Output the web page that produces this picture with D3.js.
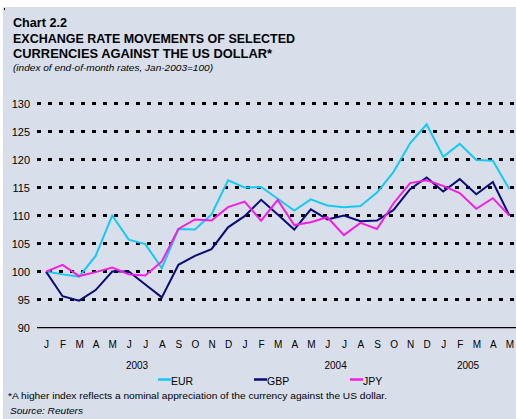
<!DOCTYPE html>
<html><head><meta charset="utf-8">
<script src="https://cdn.jsdelivr.net/npm/d3@7"></script>
<style>body{margin:0;background:#fff}svg{display:block}text{font-family:"Liberation Sans",Arial,sans-serif}</style>
</head><body><svg id="c" width="516" height="419"></svg>
<script>
const months = ["J","F","M","A","M","J","J","A","S","O","N","D","J","F","M","A","M","J","J","A","S","O","N","D","J","F","M","A","M"];
const years = [{label:"2003",idx:5.5},{label:"2004",idx:17.5},{label:"2005",idx:25.5}];
const eur = [100,99.5,99.1,102.8,110.0,105.7,104.9,100.6,107.6,107.5,110.2,116.3,115.0,115.1,113.0,110.9,112.9,111.8,111.5,111.7,114.1,117.8,122.9,126.3,120.5,122.8,119.9,119.8,114.7];
const gbp = [100,95.6,94.8,96.7,100.0,100.0,97.7,95.4,101.2,102.8,104.0,107.9,109.9,112.8,110.2,107.5,111.1,109.3,110.0,109.0,109.1,111.0,114.7,116.8,114.3,116.5,113.8,116.0,110.0];
const jpy = [100,101.2,99.2,99.9,100.7,99.5,99.3,101.8,107.6,109.3,109.1,111.5,112.5,109.1,112.8,108.3,108.8,109.7,106.5,108.7,107.6,112.2,115.8,116.3,115.3,114.0,111.2,113.1,110.0];
const yTicks = [90,95,100,105,110,115,120,125,130];
const seriesNames = ["EUR","GBP","JPY"];
const seriesColors = ["#17c8f4","#0a0a78","#f21ee6"];

const svg = d3.select("#c");
svg.append("rect").attr("x",3).attr("y",7).attr("width",513).attr("height",412).attr("fill","#d8dfeb");
svg.append("rect").attr("x",4).attr("y",8).attr("width",1).attr("height",2).attr("fill","#000");

const x = d3.scaleLinear().domain([0,28]).range([46,509.4]);
const y = d3.scaleLinear().domain([90,130]).range([327.6,103.5]);

// titles
const t = svg.append("g");
t.append("text").attr("x",13).attr("y",27).attr("font-size",12.5).attr("font-weight","bold").attr("textLength",54).attr("lengthAdjust","spacingAndGlyphs").text("Chart 2.2");
t.append("text").attr("x",13).attr("y",43).attr("font-size",12.5).attr("font-weight","bold").attr("textLength",282).attr("lengthAdjust","spacingAndGlyphs").text("EXCHANGE RATE MOVEMENTS OF SELECTED");
t.append("text").attr("x",13).attr("y",57.5).attr("font-size",12.5).attr("font-weight","bold").attr("textLength",259).attr("lengthAdjust","spacingAndGlyphs").text("CURRENCIES AGAINST THE US DOLLAR*");
t.append("text").attr("x",13).attr("y",71).attr("font-size",9).attr("font-style","italic").attr("textLength",200).attr("lengthAdjust","spacingAndGlyphs").text("(index of end-of-month rates, Jan-2003=100)");

// y axis labels
const yAxis = d3.axisLeft(y).tickValues(yTicks).tickSize(0).tickPadding(0);
const ga = svg.append("g").attr("transform","translate(30,0)").call(yAxis);
ga.select(".domain").remove();
ga.selectAll("text").attr("font-size",11).attr("fill","#000").attr("font-family","Liberation Sans, Arial, sans-serif").attr("dy","0.35em");

// grid
svg.append("g").selectAll("line").data(yTicks.filter(v=>v>90)).join("line")
  .attr("x1",37).attr("x2",516).attr("y1",d=>y(d)).attr("y2",d=>y(d))
  .attr("stroke","#000").attr("stroke-width",3).attr("stroke-dasharray","4,7");
svg.append("line").attr("x1",37).attr("x2",516).attr("y1",y(90)).attr("y2",y(90)).attr("stroke","#000").attr("stroke-width",1.2);

// x labels
const xAxis = d3.axisBottom(x).tickValues(d3.range(29)).tickSize(0).tickPadding(0).tickFormat(i=>months[i]);
const gx = svg.append("g").attr("transform","translate(0,348)").call(xAxis);
gx.select(".domain").remove();
gx.selectAll("text").attr("font-size",10).attr("fill","#000").attr("font-family","Liberation Sans, Arial, sans-serif").attr("dy",0);
svg.append("g").selectAll("text").data(years).join("text")
  .attr("x",d=>x(d.idx)).attr("y",369).attr("text-anchor","middle").attr("font-size",10).text(d=>d.label);

// lines
const line = d3.line().x((d,i)=>x(i)).y(d=>y(d));
[eur,gbp,jpy].forEach((s,k)=>{
  svg.append("path").datum(s).attr("d",line).attr("fill","none").attr("stroke",seriesColors[k]).attr("stroke-width",2).attr("stroke-linejoin","miter");
});

// legend
const legX = [158,254,350];
const lg = svg.append("g");
seriesNames.forEach((n,k)=>{
  lg.append("line").attr("x1",legX[k]).attr("x2",legX[k]+13).attr("y1",379.5).attr("y2",379.5).attr("stroke",seriesColors[k]).attr("stroke-width",2.5);
  lg.append("text").attr("x",legX[k]+13).attr("y",385).attr("font-size",10.5).text(n);
});

svg.append("text").attr("x",8).attr("y",399).attr("font-size",9.5).attr("textLength",379).attr("lengthAdjust","spacingAndGlyphs").text("*A higher index reflects a nominal appreciation of the currency against the US dollar.");
svg.append("text").attr("x",10).attr("y",414).attr("font-size",9.5).attr("font-style","italic").attr("textLength",73).attr("lengthAdjust","spacingAndGlyphs").text("Source: Reuters");
</script></body></html>
